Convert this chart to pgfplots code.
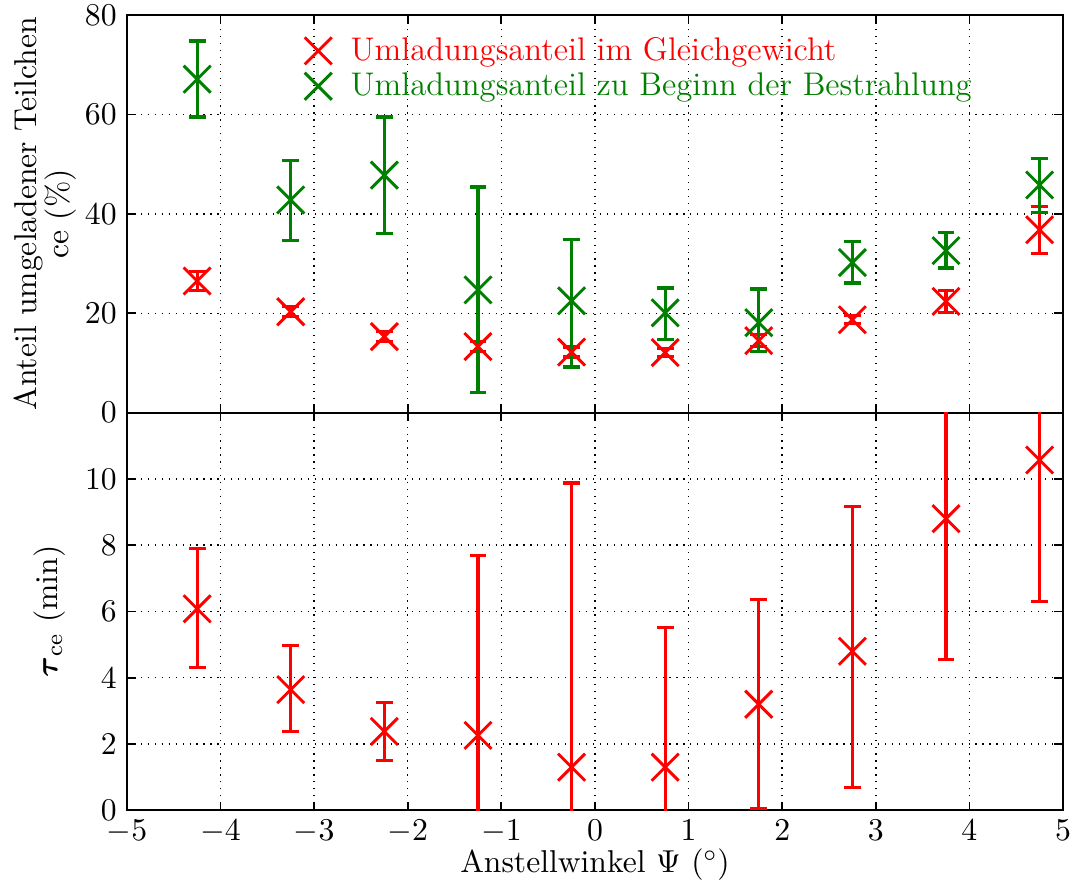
\documentclass[border=0pt]{standalone}
\usepackage{pgfplots}
\usepackage{amsmath}
\pgfplotsset{compat=1.18}
\definecolor{mgreen}{RGB}{0,128,0}
\pgfplotstableread{
x y ep em
-4.25 26.5 1.9 1.9
-3.25 20.3 1.0 1.0
-2.25 15.3 1.0 1.0
-1.25 13.3 1.0 1.0
-0.25 12.2 1.0 1.0
0.75 12.1 0.8 0.8
1.75 14.5 1.2 1.2
2.75 18.7 0.8 0.8
3.75 22.4 2.2 2.2
4.75 36.8 4.7 4.7
}\redtop
\pgfplotstableread{
x y ep em
-4.25 67.1 7.7 7.6
-3.25 42.8 7.9 8.2
-2.25 47.8 11.7 11.8
-1.25 24.7 20.7 20.7
-0.25 22.5 12.3 13.3
0.75 20.1 5.0 5.4
1.75 18.1 6.8 5.8
2.75 30.2 4.2 4.1
3.75 32.6 3.7 3.5
4.75 45.8 5.3 5.6
}\greentop
\pgfplotstableread{
x y ep em
-4.25 6.08 1.82 1.78
-3.25 3.64 1.33 1.26
-2.25 2.38 0.87 0.88
-1.25 2.26 5.42 3.0
-0.25 1.30 8.58 3.0
0.75 1.30 4.22 3.0
1.75 3.20 3.15 3.14
2.75 4.80 4.36 4.11
3.75 8.80 4.0 4.25
4.75 10.57 3.0 4.27
}\redbot
\begin{document}
\begin{tikzpicture}
\pgfplotsset{
  common/.style={
    width=323pt, height=137.2pt, scale only axis,
    xmin=-5, xmax=5, xtick={-5,-4,...,5},
    grid=major, grid style={dotted, black, line width=0.5pt},
    tick align=inside, major tick length=3pt,
    tick style={black, line width=0.6pt},
    axis line style={line width=0.8pt},
    every tick label/.append style={font=\fontsize{10.9}{13}\selectfont},
    label style={font=\fontsize{10.9}{13}\selectfont},
    error bars/y dir=both, error bars/y explicit,
  },
  ser/.style={only marks, mark=x, mark size=6.6pt, mark options={line width=1pt, #1},
    #1, line width=1.1pt,
    error bars/error bar style={line width=1.1pt, #1},
    error bars/error mark options={rotate=90, mark size=2.9pt, line width=1.1pt, #1}},
}
\begin{axis}[common, name=top,
  ymin=0, ymax=80, ytick={0,20,...,80},
  xticklabels={},
  ylabel={Anteil umgeladener Teilchen\\ ce (\%)},
  ylabel style={align=center, font=\fontsize{10.9}{11.2}\selectfont},
  ylabel shift=-4pt,
  legend style={draw=none, fill=none, at={(0.18,0.975)}, anchor=north west,
    row sep=-1.2pt, font=\fontsize{11.3}{13}\selectfont},
  legend cell align=left,
]
\addplot+[ser=red] table[x=x, y=y, y error plus=ep, y error minus=em]{\redtop};
\addlegendentry{\hspace*{4.5pt}\textcolor{red}{Umladungsanteil im Gleichgewicht}}
\addplot+[ser=mgreen] table[x=x, y=y, y error plus=ep, y error minus=em]{\greentop};
\addlegendentry{\hspace*{4.5pt}\textcolor{mgreen}{Umladungsanteil zu Beginn der Bestrahlung}}
\end{axis}
\begin{axis}[common, name=bot, at={(top.south west)}, anchor=north west,
  ymin=0, ymax=12, ytick={0,2,...,12}, yticklabels={0,2,4,6,8,10,{}},
  ylabel={$\boldsymbol{\tau}_{\mathrm{ce}}$ (min)},
  xlabel={Anstellwinkel $\Psi$ ($^\circ$)},
  xlabel style={yshift=5pt},
]
\addplot+[ser=red] table[x=x, y=y, y error plus=ep, y error minus=em]{\redbot};
\end{axis}
\pgfresetboundingbox
\path[use as bounding box] ([xshift=-43.8pt,yshift=5.2pt]top.north west) rectangle ([xshift=3.1pt,yshift=-23.8pt]bot.south east);
\end{tikzpicture}
\end{document}
